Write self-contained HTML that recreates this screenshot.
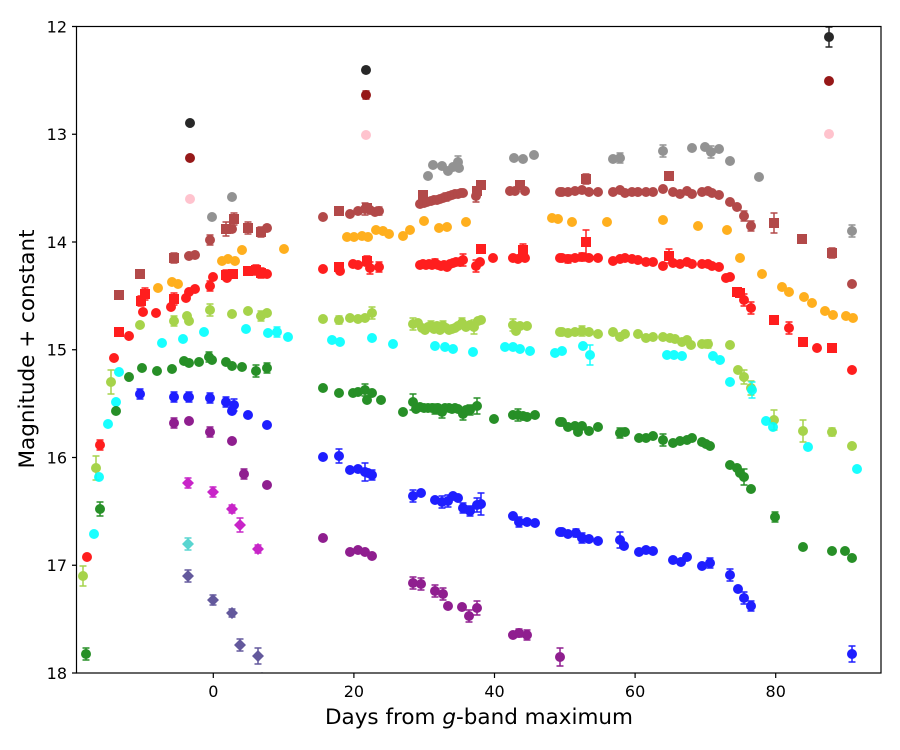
<!DOCTYPE html>
<html><head><meta charset="utf-8"><style>
html,body{margin:0;padding:0;background:#fff;}
svg{display:block;}
text{font-family:"DejaVu Sans","Liberation Sans",sans-serif;fill:#000;}
</style></head><body>
<svg width="900" height="750" viewBox="0 0 900 750" xmlns="http://www.w3.org/2000/svg">
<defs><clipPath id="c"><rect x="76.5" y="26.5" width="804.5" height="646.5"/></clipPath></defs>
<rect width="900" height="750" fill="#fff"/>
<g clip-path="url(#c)" stroke-width="1.5">
<!-- black -->
<g fill="#111" stroke="#111" opacity="0.9">
<circle cx="190" cy="123" r="5" stroke="none"/><circle cx="366" cy="70" r="5" stroke="none"/><circle cx="829" cy="37" r="5" stroke="none"/>
<path fill="none" d="M366 67V73M362.5 67h7M362.5 73h7M829 27V47M825.5 27h7M825.5 47h7"/></g>
<!-- darkred -->
<g fill="#8b0000" stroke="#8b0000" opacity="0.9">
<circle cx="190" cy="158" r="5" stroke="none"/><circle cx="366" cy="95" r="5" stroke="none"/><circle cx="829" cy="81" r="5" stroke="none"/>
<path fill="none" d="M366 91V99M362.5 91h7M362.5 99h7M829 79V83M825.5 79h7M825.5 83h7"/></g>
<!-- pink -->
<g fill="#ffc0cb" stroke="#ffc0cb" opacity="0.95">
<circle cx="190" cy="199" r="5" stroke="none"/><circle cx="366" cy="135" r="5" stroke="none"/><circle cx="829" cy="134" r="5" stroke="none"/>
<path fill="none" d="M829 131V137M825.5 131h7M825.5 137h7"/></g>
<!-- gray -->
<g fill="#808080" stroke="#808080" opacity="0.85">
<g stroke="none">
<circle cx="212" cy="217" r="5"/><circle cx="232" cy="197" r="5"/><circle cx="428" cy="176" r="5"/><circle cx="433" cy="165" r="5"/><circle cx="442" cy="166" r="5"/><circle cx="448" cy="171" r="5"/><circle cx="453" cy="167" r="5"/><circle cx="458" cy="162" r="5"/><circle cx="459" cy="168" r="5"/><circle cx="514" cy="158" r="5"/><circle cx="523" cy="159" r="5"/><circle cx="534" cy="155" r="5"/><circle cx="613" cy="159" r="5"/><circle cx="620" cy="158" r="5"/><circle cx="663" cy="151" r="5"/><circle cx="692" cy="148" r="5"/><circle cx="705" cy="147" r="5"/><circle cx="711" cy="152" r="5"/><circle cx="719" cy="149" r="5"/><circle cx="730" cy="161" r="5"/><circle cx="759" cy="177" r="5"/><circle cx="852" cy="231" r="5"/>
</g>
<path fill="none" d="M212 215V219M208.5 215h7M208.5 219h7M232 195V199M228.5 195h7M228.5 199h7M458 156V168M454.5 156h7M454.5 168h7M620 153V163M616.5 153h7M616.5 163h7M663 145V157M659.5 145h7M659.5 157h7M711 146V158M707.5 146h7M707.5 158h7M852 225V237M848.5 225h7M848.5 237h7"/></g>
<!-- brown -->
<g fill="#a52a2a" stroke="#a52a2a" opacity="0.85">
<g stroke="none">
<circle cx="189" cy="256" r="5"/><circle cx="195" cy="255" r="5"/><circle cx="210" cy="240" r="5"/><circle cx="232" cy="229" r="5"/><circle cx="267" cy="228" r="5"/><circle cx="323" cy="217" r="5"/><circle cx="350" cy="214" r="5"/><circle cx="358" cy="211" r="5"/><circle cx="365" cy="209" r="5"/><circle cx="370" cy="210" r="5"/><circle cx="375" cy="212" r="5"/><circle cx="379" cy="211" r="5"/>
<circle cx="420" cy="204" r="5"/><circle cx="424" cy="203" r="5"/><circle cx="427" cy="202" r="5"/><circle cx="431" cy="201" r="5"/><circle cx="434" cy="200" r="5"/><circle cx="437" cy="200" r="5"/><circle cx="440" cy="199" r="5"/><circle cx="443" cy="198" r="5"/><circle cx="446" cy="197" r="5"/><circle cx="449" cy="196" r="5"/><circle cx="452" cy="195" r="5"/><circle cx="455" cy="194" r="5"/><circle cx="458" cy="194" r="5"/><circle cx="461" cy="193" r="5"/><circle cx="463" cy="193" r="5"/><circle cx="476" cy="196" r="5"/>
<circle cx="510" cy="191" r="5"/><circle cx="515" cy="191" r="5"/><circle cx="525" cy="191" r="5"/><circle cx="560" cy="192" r="5"/><circle cx="562" cy="192" r="5"/><circle cx="568" cy="192" r="5"/><circle cx="575" cy="191" r="5"/><circle cx="582" cy="190" r="5"/><circle cx="589" cy="192" r="5"/><circle cx="598" cy="192" r="5"/><circle cx="613" cy="192" r="5"/><circle cx="620" cy="190" r="5"/><circle cx="625" cy="193" r="5"/><circle cx="632" cy="192" r="5"/><circle cx="638" cy="192" r="5"/><circle cx="646" cy="192" r="5"/><circle cx="653" cy="192" r="5"/><circle cx="663" cy="189" r="5"/><circle cx="673" cy="192" r="5"/><circle cx="680" cy="194" r="5"/><circle cx="687" cy="191" r="5"/><circle cx="692" cy="194" r="5"/><circle cx="702" cy="192" r="5"/><circle cx="708" cy="191" r="5"/><circle cx="712" cy="193" r="5"/><circle cx="719" cy="195" r="5"/><circle cx="730" cy="202" r="5"/><circle cx="737" cy="207" r="5"/><circle cx="744" cy="216" r="5"/><circle cx="751" cy="226" r="5"/><circle cx="852" cy="284" r="5"/>
<rect x="114" y="290" width="10" height="10"/><rect x="135" y="269" width="10" height="10"/><rect x="169" y="253" width="10" height="10"/><rect x="221" y="224" width="10" height="10"/><rect x="229" y="214" width="10" height="10"/><rect x="243" y="223" width="10" height="10"/><rect x="256" y="227" width="10" height="10"/><rect x="334" y="206" width="10" height="10"/><rect x="362" y="203" width="10" height="10"/><rect x="418" y="190" width="10" height="10"/><rect x="472" y="186" width="10" height="10"/><rect x="476" y="180" width="10" height="10"/><rect x="515" y="180" width="10" height="10"/><rect x="581" y="174" width="10" height="10"/><rect x="664" y="171" width="10" height="10"/><rect x="769" y="218" width="10" height="10"/><rect x="797" y="234" width="10" height="10"/><rect x="827" y="248" width="10" height="10"/>
</g>
<path fill="none" d="M195 252V258M191.5 252h7M191.5 258h7M210 235V245M206.5 235h7M206.5 245h7M232 226V232M228.5 226h7M228.5 232h7M267 225V231M263.5 225h7M263.5 231h7M365 203V215M361.5 203h7M361.5 215h7M379 207V215M375.5 207h7M375.5 215h7M437 197V203M433.5 197h7M433.5 203h7M446 193V201M442.5 193h7M442.5 201h7M458 191V197M454.5 191h7M454.5 197h7M476 190V202M472.5 190h7M472.5 202h7M744 211V221M740.5 211h7M740.5 221h7M751 221V231M747.5 221h7M747.5 231h7M119 291V299M115.5 291h7M115.5 299h7M140 270V278M136.5 270h7M136.5 278h7M174 253V263M170.5 253h7M170.5 263h7M226 222V236M222.5 222h7M222.5 236h7M234 213V225M230.5 213h7M230.5 225h7M248 222V234M244.5 222h7M244.5 234h7M261 227V237M257.5 227h7M257.5 237h7M586 174V184M582.5 174h7M582.5 184h7M774 213V233M770.5 213h7M770.5 233h7M832 248V258M828.5 248h7M828.5 258h7"/></g>
<!-- orange -->
<g fill="#ffa500" opacity="0.88">
<circle cx="158" cy="288" r="5"/><circle cx="172" cy="282" r="5"/><circle cx="178" cy="284" r="5"/><circle cx="222" cy="261" r="5"/><circle cx="228" cy="259" r="5"/><circle cx="235" cy="261" r="5"/><circle cx="242" cy="250" r="5"/><circle cx="284" cy="249" r="5"/><circle cx="347" cy="237" r="5"/><circle cx="354" cy="237" r="5"/><circle cx="362" cy="236" r="5"/><circle cx="368" cy="237" r="5"/><circle cx="376" cy="230" r="5"/><circle cx="383" cy="231" r="5"/><circle cx="389" cy="234" r="5"/><circle cx="403" cy="236" r="5"/><circle cx="410" cy="230" r="5"/><circle cx="424" cy="221" r="5"/><circle cx="439" cy="228" r="5"/><circle cx="447" cy="227" r="5"/><circle cx="466" cy="222" r="5"/><circle cx="552" cy="218" r="5"/><circle cx="558" cy="219" r="5"/><circle cx="572" cy="222" r="5"/><circle cx="607" cy="222" r="5"/><circle cx="663" cy="220" r="5"/><circle cx="698" cy="226" r="5"/><circle cx="727" cy="230" r="5"/><circle cx="740" cy="258" r="5"/><circle cx="762" cy="274" r="5"/><circle cx="782" cy="287" r="5"/><circle cx="789" cy="292" r="5"/><circle cx="804" cy="297" r="5"/><circle cx="812" cy="303" r="5"/><circle cx="825" cy="311" r="5"/><circle cx="833" cy="315" r="5"/><circle cx="846" cy="316" r="5"/><circle cx="853" cy="318" r="5"/>
</g>
<!-- red -->
<g fill="#ff0000" stroke="#ff0000" opacity="0.88">
<g stroke="none">
<circle cx="72" cy="607" r="5"/><circle cx="87" cy="557" r="5"/><circle cx="100" cy="445" r="5"/><circle cx="114" cy="358" r="5"/><circle cx="129" cy="336" r="5"/><circle cx="143" cy="312" r="5"/><circle cx="156" cy="313" r="5"/><circle cx="171" cy="307" r="5"/><circle cx="186" cy="298" r="5"/><circle cx="189" cy="292" r="5"/><circle cx="195" cy="289" r="5"/><circle cx="210" cy="286" r="5"/><circle cx="213" cy="277" r="5"/><circle cx="227" cy="278" r="5"/><circle cx="267" cy="274" r="5"/><circle cx="323" cy="269" r="5"/><circle cx="340" cy="271" r="5"/><circle cx="353" cy="264" r="5"/><circle cx="358" cy="265" r="5"/><circle cx="370" cy="268" r="5"/><circle cx="379" cy="267" r="5"/>
<circle cx="420" cy="265" r="5"/><circle cx="423" cy="264" r="5"/><circle cx="426" cy="265" r="5"/><circle cx="429" cy="264" r="5"/><circle cx="432" cy="265" r="5"/><circle cx="435" cy="263" r="5"/><circle cx="438" cy="265" r="5"/><circle cx="441" cy="266" r="5"/><circle cx="444" cy="265" r="5"/><circle cx="447" cy="267" r="5"/><circle cx="450" cy="264" r="5"/><circle cx="453" cy="263" r="5"/><circle cx="456" cy="262" r="5"/><circle cx="460" cy="262" r="5"/><circle cx="463" cy="260" r="5"/><circle cx="476" cy="266" r="5"/><circle cx="480" cy="262" r="5"/><circle cx="493" cy="258" r="5"/><circle cx="513" cy="258" r="5"/><circle cx="518" cy="259" r="5"/><circle cx="525" cy="258" r="5"/>
<circle cx="560" cy="258" r="5"/><circle cx="562" cy="258" r="5"/><circle cx="568" cy="259" r="5"/><circle cx="575" cy="258" r="5"/><circle cx="582" cy="257" r="5"/><circle cx="589" cy="258" r="5"/><circle cx="598" cy="258" r="5"/><circle cx="613" cy="261" r="5"/><circle cx="620" cy="259" r="5"/><circle cx="625" cy="258" r="5"/><circle cx="632" cy="259" r="5"/><circle cx="638" cy="260" r="5"/><circle cx="646" cy="262" r="5"/><circle cx="653" cy="262" r="5"/><circle cx="663" cy="266" r="5"/><circle cx="673" cy="263" r="5"/><circle cx="680" cy="264" r="5"/><circle cx="687" cy="262" r="5"/><circle cx="692" cy="264" r="5"/><circle cx="702" cy="264" r="5"/><circle cx="708" cy="264" r="5"/><circle cx="712" cy="266" r="5"/><circle cx="719" cy="267" r="5"/><circle cx="726" cy="278" r="5"/><circle cx="730" cy="277" r="5"/><circle cx="744" cy="300" r="5"/><circle cx="751" cy="308" r="5"/><circle cx="789" cy="328" r="5"/><circle cx="817" cy="348" r="5"/><circle cx="852" cy="370" r="5"/>
<rect x="114" y="327" width="10" height="10"/><rect x="136" y="296" width="10" height="10"/><rect x="140" y="289" width="10" height="10"/><rect x="169" y="294" width="10" height="10"/><rect x="221" y="270" width="10" height="10"/><rect x="228" y="269" width="10" height="10"/><rect x="243" y="266" width="10" height="10"/><rect x="251" y="265" width="10" height="10"/><rect x="256" y="268" width="10" height="10"/><rect x="334" y="262" width="10" height="10"/><rect x="362" y="256" width="10" height="10"/><rect x="476" y="244" width="10" height="10"/><rect x="518" y="245" width="10" height="10"/><rect x="581" y="237" width="10" height="10"/><rect x="664" y="251" width="10" height="10"/><rect x="732" y="287" width="10" height="10"/><rect x="735" y="288" width="10" height="10"/><rect x="769" y="315" width="10" height="10"/><rect x="798" y="337" width="10" height="10"/><rect x="827" y="343" width="10" height="10"/>
</g>
<path fill="none" d="M100 440V450M96.5 440h7M96.5 450h7M210 281V291M206.5 281h7M206.5 291h7M370 262V274M366.5 262h7M366.5 274h7M379 262V272M375.5 262h7M375.5 272h7M435 259V267M431.5 259h7M431.5 267h7M463 254V266M459.5 254h7M459.5 266h7M476 260V272M472.5 260h7M472.5 272h7M568 255V263M564.5 255h7M564.5 263h7M582 253V261M578.5 253h7M578.5 261h7M744 294V306M740.5 294h7M740.5 306h7M751 302V314M747.5 302h7M747.5 314h7M789 322V334M785.5 322h7M785.5 334h7M119 328V336M115.5 328h7M115.5 336h7M141 296V306M137.5 296h7M137.5 306h7M145 288V300M141.5 288h7M141.5 300h7M174 293V305M170.5 293h7M170.5 305h7M226 270V280M222.5 270h7M222.5 280h7M256 265V275M252.5 265h7M252.5 275h7M261 268V278M257.5 268h7M257.5 278h7M367 256V266M363.5 256h7M363.5 266h7M523 244V256M519.5 244h7M519.5 256h7M586 230V254M582.5 230h7M582.5 254h7M669 249V263M665.5 249h7M665.5 263h7"/></g>
<!-- yellowgreen -->
<g fill="#9acd32" stroke="#9acd32" opacity="0.88">
<g stroke="none">
<circle cx="83" cy="576" r="5"/><circle cx="96" cy="468" r="5"/><circle cx="111" cy="382" r="5"/><circle cx="140" cy="325" r="5"/><circle cx="174" cy="321" r="5"/><circle cx="187" cy="316" r="5"/><circle cx="189" cy="321" r="5"/><circle cx="210" cy="310" r="5"/><circle cx="232" cy="314" r="5"/><circle cx="248" cy="311" r="5"/><circle cx="261" cy="316" r="5"/><circle cx="267" cy="313" r="5"/><circle cx="323" cy="319" r="5"/><circle cx="339" cy="320" r="5"/><circle cx="350" cy="318" r="5"/><circle cx="358" cy="319" r="5"/><circle cx="365" cy="318" r="5"/><circle cx="372" cy="313" r="5"/>
<circle cx="413" cy="324" r="5"/><circle cx="418" cy="323" r="5"/><circle cx="422" cy="328" r="5"/><circle cx="425" cy="330" r="5"/><circle cx="428" cy="327" r="5"/><circle cx="431" cy="326" r="5"/><circle cx="434" cy="329" r="5"/><circle cx="437" cy="326" r="5"/><circle cx="440" cy="330" r="5"/><circle cx="443" cy="326" r="5"/><circle cx="446" cy="328" r="5"/><circle cx="449" cy="330" r="5"/><circle cx="452" cy="329" r="5"/><circle cx="455" cy="328" r="5"/><circle cx="458" cy="326" r="5"/><circle cx="462" cy="323" r="5"/><circle cx="466" cy="327" r="5"/><circle cx="470" cy="325" r="5"/><circle cx="474" cy="327" r="5"/><circle cx="478" cy="321" r="5"/><circle cx="481" cy="320" r="5"/><circle cx="513" cy="325" r="5"/><circle cx="516" cy="331" r="5"/><circle cx="520" cy="326" r="5"/><circle cx="527" cy="326" r="5"/>
<circle cx="560" cy="332" r="5"/><circle cx="562" cy="332" r="5"/><circle cx="568" cy="333" r="5"/><circle cx="575" cy="332" r="5"/><circle cx="582" cy="331" r="5"/><circle cx="589" cy="332" r="5"/><circle cx="598" cy="334" r="5"/><circle cx="613" cy="332" r="5"/><circle cx="620" cy="337" r="5"/><circle cx="625" cy="334" r="5"/><circle cx="638" cy="334" r="5"/><circle cx="646" cy="338" r="5"/><circle cx="653" cy="337" r="5"/><circle cx="663" cy="337" r="5"/><circle cx="670" cy="338" r="5"/><circle cx="675" cy="339" r="5"/><circle cx="682" cy="342" r="5"/><circle cx="687" cy="340" r="5"/><circle cx="691" cy="345" r="5"/><circle cx="702" cy="344" r="5"/><circle cx="708" cy="344" r="5"/><circle cx="730" cy="345" r="5"/><circle cx="738" cy="370" r="5"/><circle cx="744" cy="377" r="5"/><circle cx="751" cy="388" r="5"/><circle cx="774" cy="420" r="5"/><circle cx="803" cy="431" r="5"/><circle cx="832" cy="432" r="5"/><circle cx="852" cy="446" r="5"/>
</g>
<path fill="none" d="M83 566V586M79.5 566h7M79.5 586h7M96 456V480M92.5 456h7M92.5 480h7M111 370V394M107.5 370h7M107.5 394h7M174 316V326M170.5 316h7M170.5 326h7M210 304V316M206.5 304h7M206.5 316h7M261 311V321M257.5 311h7M257.5 321h7M339 316V324M335.5 316h7M335.5 324h7M372 307V319M368.5 307h7M368.5 319h7M413 318V330M409.5 318h7M409.5 330h7M431 321V331M427.5 321h7M427.5 331h7M443 321V331M439.5 321h7M439.5 331h7M462 318V328M458.5 318h7M458.5 328h7M474 320V334M470.5 320h7M470.5 334h7M513 319V331M509.5 319h7M509.5 331h7M582 326V336M578.5 326h7M578.5 336h7M708 340V348M704.5 340h7M704.5 348h7M744 370V384M740.5 370h7M740.5 384h7M751 381V395M747.5 381h7M747.5 395h7M774 410V430M770.5 410h7M770.5 430h7M803 420V442M799.5 420h7M799.5 442h7M832 428V436M828.5 428h7M828.5 436h7"/></g>
<!-- cyan -->
<g fill="#00ffff" stroke="#00ffff" opacity="0.9">
<g stroke="none">
<circle cx="94" cy="534" r="5"/><circle cx="99" cy="477" r="5"/><circle cx="108" cy="424" r="5"/><circle cx="116" cy="402" r="5"/><circle cx="119" cy="372" r="5"/><circle cx="162" cy="343" r="5"/><circle cx="183" cy="339" r="5"/><circle cx="204" cy="332" r="5"/><circle cx="246" cy="329" r="5"/><circle cx="268" cy="333" r="5"/><circle cx="277" cy="332" r="5"/><circle cx="288" cy="337" r="5"/><circle cx="332" cy="340" r="5"/><circle cx="340" cy="342" r="5"/><circle cx="372" cy="338" r="5"/><circle cx="393" cy="344" r="5"/><circle cx="435" cy="346" r="5"/><circle cx="445" cy="347" r="5"/><circle cx="453" cy="349" r="5"/><circle cx="473" cy="352" r="5"/><circle cx="505" cy="347" r="5"/><circle cx="513" cy="347" r="5"/><circle cx="520" cy="349" r="5"/><circle cx="530" cy="351" r="5"/><circle cx="555" cy="353" r="5"/><circle cx="562" cy="351" r="5"/><circle cx="583" cy="346" r="5"/><circle cx="590" cy="355" r="5"/><circle cx="667" cy="355" r="5"/><circle cx="674" cy="355" r="5"/><circle cx="682" cy="356" r="5"/><circle cx="713" cy="356" r="5"/><circle cx="720" cy="360" r="5"/><circle cx="730" cy="382" r="5"/><circle cx="752" cy="390" r="5"/><circle cx="766" cy="421" r="5"/><circle cx="773" cy="427" r="5"/><circle cx="808" cy="447" r="5"/><circle cx="857" cy="469" r="5"/>
</g>
<path fill="none" d="M277 327V337M273.5 327h7M273.5 337h7M590 345V365M586.5 345h7M586.5 365h7M752 382V398M748.5 382h7M748.5 398h7"/></g>
<!-- green -->
<g fill="#0a800a" stroke="#0a800a" opacity="0.88">
<g stroke="none">
<circle cx="86" cy="654" r="5"/><circle cx="100" cy="509" r="5"/><circle cx="116" cy="411" r="5"/><circle cx="129" cy="377" r="5"/><circle cx="142" cy="368" r="5"/><circle cx="157" cy="371" r="5"/><circle cx="172" cy="369" r="5"/><circle cx="184" cy="361" r="5"/><circle cx="189" cy="363" r="5"/><circle cx="199" cy="362" r="5"/><circle cx="209" cy="357" r="5"/><circle cx="212" cy="360" r="5"/><circle cx="226" cy="362" r="5"/><circle cx="232" cy="366" r="5"/><circle cx="242" cy="367" r="5"/><circle cx="256" cy="371" r="5"/><circle cx="267" cy="368" r="5"/>
<circle cx="323" cy="388" r="5"/><circle cx="339" cy="393" r="5"/><circle cx="353" cy="393" r="5"/><circle cx="358" cy="392" r="5"/><circle cx="365" cy="390" r="5"/><circle cx="367" cy="400" r="5"/><circle cx="372" cy="393" r="5"/><circle cx="381" cy="400" r="5"/><circle cx="403" cy="412" r="5"/><circle cx="413" cy="402" r="5"/><circle cx="416" cy="409" r="5"/><circle cx="420" cy="407" r="5"/><circle cx="424" cy="408" r="5"/><circle cx="428" cy="408" r="5"/><circle cx="432" cy="408" r="5"/><circle cx="435" cy="409" r="5"/><circle cx="438" cy="408" r="5"/><circle cx="442" cy="412" r="5"/><circle cx="445" cy="408" r="5"/><circle cx="449" cy="408" r="5"/><circle cx="452" cy="409" r="5"/><circle cx="455" cy="408" r="5"/><circle cx="458" cy="409" r="5"/><circle cx="463" cy="414" r="5"/><circle cx="466" cy="410" r="5"/><circle cx="470" cy="410" r="5"/><circle cx="477" cy="406" r="5"/><circle cx="494" cy="419" r="5"/><circle cx="513" cy="415" r="5"/><circle cx="518" cy="415" r="5"/><circle cx="523" cy="416" r="5"/><circle cx="527" cy="417" r="5"/><circle cx="535" cy="415" r="5"/>
<circle cx="560" cy="422" r="5"/><circle cx="562" cy="422" r="5"/><circle cx="568" cy="427" r="5"/><circle cx="575" cy="426" r="5"/><circle cx="578" cy="432" r="5"/><circle cx="582" cy="426" r="5"/><circle cx="589" cy="431" r="5"/><circle cx="598" cy="427" r="5"/><circle cx="620" cy="433" r="5"/><circle cx="625" cy="432" r="5"/><circle cx="639" cy="438" r="5"/><circle cx="646" cy="438" r="5"/><circle cx="653" cy="436" r="5"/><circle cx="663" cy="440" r="5"/><circle cx="673" cy="443" r="5"/><circle cx="680" cy="441" r="5"/><circle cx="687" cy="440" r="5"/><circle cx="692" cy="438" r="5"/><circle cx="702" cy="442" r="5"/><circle cx="706" cy="444" r="5"/><circle cx="710" cy="446" r="5"/><circle cx="730" cy="465" r="5"/><circle cx="737" cy="468" r="5"/><circle cx="740" cy="473" r="5"/><circle cx="744" cy="477" r="5"/><circle cx="751" cy="489" r="5"/><circle cx="775" cy="517" r="5"/><circle cx="803" cy="547" r="5"/><circle cx="832" cy="551" r="5"/><circle cx="845" cy="551" r="5"/><circle cx="852" cy="558" r="5"/>
</g>
<path fill="none" d="M86 648V660M82.5 648h7M82.5 660h7M100 502V516M96.5 502h7M96.5 516h7M189 360V366M185.5 360h7M185.5 366h7M209 352V362M205.5 352h7M205.5 362h7M256 365V377M252.5 365h7M252.5 377h7M267 363V373M263.5 363h7M263.5 373h7M365 384V396M361.5 384h7M361.5 396h7M413 394V410M409.5 394h7M409.5 410h7M435 404V414M431.5 404h7M431.5 414h7M442 406V418M438.5 406h7M438.5 418h7M463 408V420M459.5 408h7M459.5 420h7M470 405V415M466.5 405h7M466.5 415h7M477 398V414M473.5 398h7M473.5 414h7M518 409V421M514.5 409h7M514.5 421h7M620 428V438M616.5 428h7M616.5 438h7M663 434V446M659.5 434h7M659.5 446h7M744 469V485M740.5 469h7M740.5 485h7M775 512V522M771.5 512h7M771.5 522h7"/></g>
<!-- blue -->
<g fill="#0000ff" stroke="#0000ff" opacity="0.88">
<g stroke="none">
<circle cx="140" cy="394" r="5"/><circle cx="174" cy="397" r="5"/><circle cx="188" cy="397" r="5"/><circle cx="189" cy="397" r="5"/><circle cx="210" cy="398" r="5"/><circle cx="226" cy="402" r="5"/><circle cx="234" cy="405" r="5"/><circle cx="232" cy="411" r="5"/><circle cx="248" cy="415" r="5"/><circle cx="267" cy="425" r="5"/><circle cx="323" cy="457" r="5"/><circle cx="339" cy="456" r="5"/><circle cx="350" cy="470" r="5"/><circle cx="358" cy="469" r="5"/><circle cx="365" cy="472" r="5"/><circle cx="368" cy="473" r="5"/><circle cx="372" cy="475" r="5"/><circle cx="413" cy="496" r="5"/><circle cx="421" cy="493" r="5"/><circle cx="435" cy="500" r="5"/><circle cx="442" cy="502" r="5"/><circle cx="448" cy="501" r="5"/><circle cx="453" cy="496" r="5"/><circle cx="458" cy="498" r="5"/><circle cx="463" cy="508" r="5"/><circle cx="470" cy="511" r="5"/><circle cx="477" cy="505" r="5"/><circle cx="481" cy="504" r="5"/><circle cx="513" cy="516" r="5"/><circle cx="519" cy="522" r="5"/><circle cx="527" cy="522" r="5"/><circle cx="535" cy="523" r="5"/>
<circle cx="560" cy="532" r="5"/><circle cx="562" cy="532" r="5"/><circle cx="568" cy="534" r="5"/><circle cx="576" cy="533" r="5"/><circle cx="582" cy="538" r="5"/><circle cx="589" cy="539" r="5"/><circle cx="598" cy="541" r="5"/><circle cx="620" cy="540" r="5"/><circle cx="624" cy="546" r="5"/><circle cx="639" cy="552" r="5"/><circle cx="646" cy="550" r="5"/><circle cx="653" cy="551" r="5"/><circle cx="673" cy="560" r="5"/><circle cx="681" cy="562" r="5"/><circle cx="687" cy="557" r="5"/><circle cx="702" cy="566" r="5"/><circle cx="710" cy="563" r="5"/><circle cx="730" cy="575" r="5"/><circle cx="738" cy="589" r="5"/><circle cx="744" cy="598" r="5"/><circle cx="751" cy="606" r="5"/><circle cx="852" cy="654" r="5"/>
</g>
<path fill="none" d="M140 389V399M136.5 389h7M136.5 399h7M174 392V402M170.5 392h7M170.5 402h7M189 392V402M185.5 392h7M185.5 402h7M210 393V403M206.5 393h7M206.5 403h7M226 397V407M222.5 397h7M222.5 407h7M234 399V411M230.5 399h7M230.5 411h7M339 449V463M335.5 449h7M335.5 463h7M365 463V481M361.5 463h7M361.5 481h7M372 470V480M368.5 470h7M368.5 480h7M413 490V502M409.5 490h7M409.5 502h7M442 496V508M438.5 496h7M438.5 508h7M448 495V507M444.5 495h7M444.5 507h7M463 503V513M459.5 503h7M459.5 513h7M470 506V516M466.5 506h7M466.5 516h7M477 498V512M473.5 498h7M473.5 512h7M481 493V515M477.5 493h7M477.5 515h7M519 517V527M515.5 517h7M515.5 527h7M576 529V537M572.5 529h7M572.5 537h7M582 533V543M578.5 533h7M578.5 543h7M620 532V548M616.5 532h7M616.5 548h7M710 558V568M706.5 558h7M706.5 568h7M730 569V581M726.5 569h7M726.5 581h7M744 592V604M740.5 592h7M740.5 604h7M751 601V611M747.5 601h7M747.5 611h7M852 646V662M848.5 646h7M848.5 662h7"/></g>
<!-- purple -->
<g fill="#800080" stroke="#800080" opacity="0.88">
<g stroke="none">
<circle cx="174" cy="423" r="5"/><circle cx="189" cy="421" r="5"/><circle cx="210" cy="432" r="5"/><circle cx="232" cy="441" r="5"/><circle cx="244" cy="474" r="5"/><circle cx="267" cy="485" r="5"/><circle cx="323" cy="538" r="5"/><circle cx="350" cy="552" r="5"/><circle cx="358" cy="550" r="5"/><circle cx="365" cy="552" r="5"/><circle cx="372" cy="556" r="5"/><circle cx="413" cy="583" r="5"/><circle cx="421" cy="584" r="5"/><circle cx="435" cy="591" r="5"/><circle cx="443" cy="594" r="5"/><circle cx="448" cy="606" r="5"/><circle cx="462" cy="607" r="5"/><circle cx="469" cy="616" r="5"/><circle cx="477" cy="608" r="5"/><circle cx="513" cy="635" r="5"/><circle cx="519" cy="633" r="5"/><circle cx="527" cy="635" r="5"/><circle cx="560" cy="657" r="5"/>
</g>
<path fill="none" d="M174 418V428M170.5 418h7M170.5 428h7M210 427V437M206.5 427h7M206.5 437h7M244 469V479M240.5 469h7M240.5 479h7M413 577V589M409.5 577h7M409.5 589h7M421 578V590M417.5 578h7M417.5 590h7M435 585V597M431.5 585h7M431.5 597h7M443 588V600M439.5 588h7M439.5 600h7M469 610V622M465.5 610h7M465.5 622h7M477 601V615M473.5 601h7M473.5 615h7M519 629V637M515.5 629h7M515.5 637h7M527 630V640M523.5 630h7M523.5 640h7M560 648V666M556.5 648h7M556.5 666h7"/></g>
<!-- magenta diamonds -->
<g fill="#bf00bf" stroke="#bf00bf" opacity="0.85">
<path stroke="none" d="M188 477l6 6l-6 6l-6-6zM213 486l6 6l-6 6l-6-6zM232 503l6 6l-6 6l-6-6zM240 519l6 6l-6 6l-6-6zM258 543l6 6l-6 6l-6-6z"/>
<path fill="none" d="M188 478V488M184.5 478h7M184.5 488h7M213 487V497M209.5 487h7M209.5 497h7M232 505V513M228.5 505h7M228.5 513h7M240 518V532M236.5 518h7M236.5 532h7M258 545V553M254.5 545h7M254.5 553h7"/></g>
<!-- turquoise diamond -->
<g fill="#48d1cc" stroke="#48d1cc" opacity="0.9">
<path stroke="none" d="M188 538l6 6l-6 6l-6-6z"/>
<path fill="none" d="M188 538V550M184.5 538h7M184.5 550h7"/></g>
<!-- darkslateblue diamonds -->
<g fill="#483d8b" stroke="#483d8b" opacity="0.85">
<path stroke="none" d="M188 570l6 6l-6 6l-6-6zM213 594l6 6l-6 6l-6-6zM232 607l6 6l-6 6l-6-6zM240 639l6 6l-6 6l-6-6zM258 650l6 6l-6 6l-6-6zM262 672l6 6l-6 6l-6-6z"/>
<path fill="none" d="M188 570V582M184.5 570h7M184.5 582h7M213 595V605M209.5 595h7M209.5 605h7M232 609V617M228.5 609h7M228.5 617h7M240 639V651M236.5 639h7M236.5 651h7M258 648V664M254.5 648h7M254.5 664h7"/></g>
</g>
<!-- axes frame -->
<rect x="76.5" y="26.5" width="804.5" height="646.5" fill="none" stroke="#000" stroke-width="1.2"/>
<!-- y ticks -->
<path stroke="#000" stroke-width="1.2" d="M72 26.5h4.5M72 134.25h4.5M72 242h4.5M72 349.75h4.5M72 457.5h4.5M72 565.25h4.5M72 673h4.5"/>
<g font-size="16" text-anchor="end">
<text x="67" y="32.3">12</text>
<text x="67" y="140">13</text>
<text x="67" y="247.8">14</text>
<text x="67" y="355.5">15</text>
<text x="67" y="463.3">16</text>
<text x="67" y="571">17</text>
<text x="67" y="678.8">18</text>
</g>
<!-- x ticks -->
<path stroke="#000" stroke-width="1.2" d="M213.3 673v5M353.9 673v5M494.5 673v5M635.1 673v5M775.7 673v5"/>
<g font-size="16" text-anchor="middle">
<text x="213.3" y="697">0</text>
<text x="353.9" y="697">20</text>
<text x="494.5" y="697">40</text>
<text x="635.1" y="697">60</text>
<text x="775.7" y="697">80</text>
</g>
<text x="479" y="724" font-size="21.5" text-anchor="middle">Days from <tspan font-style="italic">g</tspan>-band maximum</text>
<text transform="translate(34 349) rotate(-90)" font-size="21.5" text-anchor="middle">Magnitude + constant</text>
</svg>
</body></html>
